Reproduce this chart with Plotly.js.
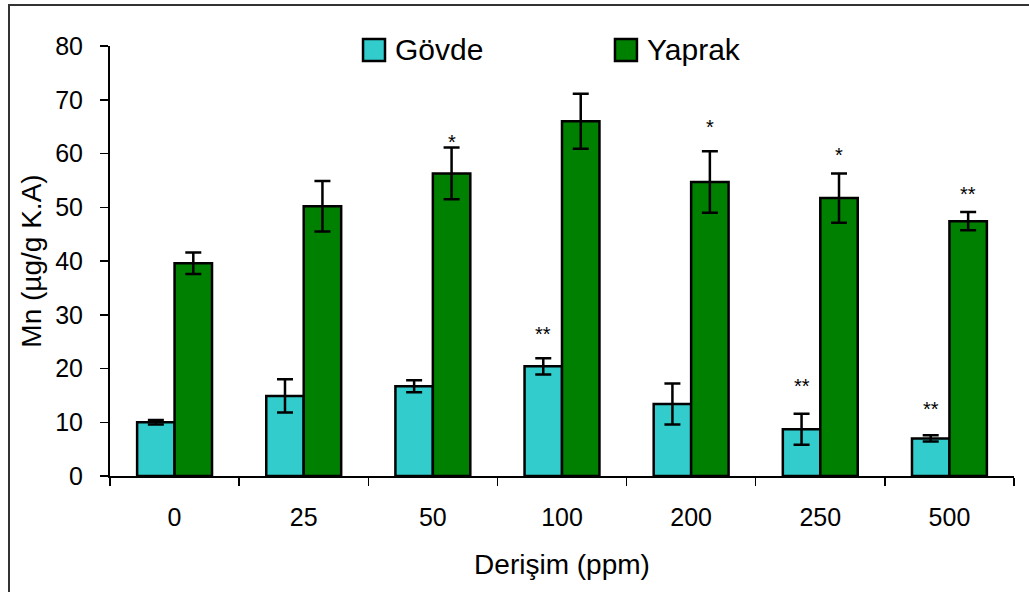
<!DOCTYPE html>
<html>
<head>
<meta charset="utf-8">
<script src="https://cdn.plot.ly/plotly-3.0.1.min.js"></script>
<style>
html,body{margin:0;padding:0;background:#fff;overflow:hidden;}
#chart{width:1029px;height:592px;}
#frame{position:absolute;left:8px;top:4px;width:1200px;height:800px;border-top:2px solid #333;border-left:2px solid #333;pointer-events:none;}
</style>
</head>
<body>
<div id="chart"></div>
<div id="frame"></div>
<script>
// ---- data ----
const categories = ['0', '25', '50', '100', '200', '250', '500'];
const seriesNames = ['Gövde', 'Yaprak'];
const govde = [10.0, 14.9, 16.7, 20.4, 13.4, 8.7, 7.0];
const govdeErr = [0.4, 3.1, 1.1, 1.5, 3.8, 2.9, 0.6];
const yaprak = [39.6, 50.2, 56.3, 66.0, 54.7, 51.7, 47.4];
const yaprakErr = [2.0, 4.7, 4.8, 5.1, 5.7, 4.6, 1.7];
// significance marks (label text and label height in axis units)
const govdeSig = ['', '', '', '**', '', '**', '**'];
const govdeSigY = [0, 0, 0, 27.2, 0, 17.4, 13.2];
const yaprakSig = ['', '', '*', '', '*', '*', '**'];
const yaprakSigY = [0, 0, 62.9, 0, 65.7, 60.5, 53.2];
const yTicks = [0, 10, 20, 30, 40, 50, 60, 70, 80];
const xTitle = 'Derişim (ppm)';
const yTitle = 'Mn (µg/g K.A)';

const colors = ['#33CCCC', '#008000'];
const FONT = '"Liberation Sans", Arial, sans-serif';
const bargap = 0.42;
const off = (1 - bargap) / 4;

const errStyle = {type: 'data', visible: true, color: '#000', thickness: 2.5, width: 8};
const traces = [
  {type: 'bar', name: seriesNames[0], x: categories, y: govde,
   marker: {color: colors[0], line: {color: '#000', width: 2.5}},
   error_y: Object.assign({array: govdeErr}, errStyle), showlegend: false},
  {type: 'bar', name: seriesNames[1], x: categories, y: yaprak,
   marker: {color: colors[1], line: {color: '#000', width: 2.5}},
   error_y: Object.assign({array: yaprakErr}, errStyle), showlegend: false}
];

const annotations = [];
categories.forEach((c, i) => {
  if (govdeSig[i]) annotations.push({x: i - off, y: govdeSigY[i], xref: 'x', yref: 'y', text: govdeSig[i],
    showarrow: false, yanchor: 'middle', yshift: -4, font: {family: FONT, size: 20, color: '#000'}});
  if (yaprakSig[i]) annotations.push({x: i + off, y: yaprakSigY[i], xref: 'x', yref: 'y', text: yaprakSig[i],
    showarrow: false, yanchor: 'middle', yshift: -4, font: {family: FONT, size: 20, color: '#000'}});
});

// custom legend (large square keys)
const shapes = [];
const legX = [0.2799, 0.5586];
seriesNames.forEach((n, k) => {
  shapes.push({type: 'rect', xref: 'paper', yref: 'paper', x0: legX[k], x1: legX[k] + 0.0243,
    y0: 0.9651, y1: 1.0163, fillcolor: colors[k], line: {color: '#000', width: 2.5}});
  annotations.push({xref: 'paper', yref: 'paper', x: legX[k] + 0.0332, y: 0.9907, xanchor: 'left', yanchor: 'middle',
    text: n, showarrow: false, font: {family: FONT, size: 30, color: '#000'}});
});

const layout = {
  width: 1029, height: 592,
  margin: {l: 110, r: 15, t: 46, b: 116},
  paper_bgcolor: '#fff', plot_bgcolor: '#fff',
  barmode: 'group', bargap: bargap, bargroupgap: 0,
  font: {family: FONT, color: '#000'},
  xaxis: {type: 'category', showline: true, linecolor: '#000', linewidth: 2,
    ticks: 'outside', tickson: 'boundaries', ticklen: 8, tickwidth: 1.5, tickcolor: '#000',
    showgrid: false, zeroline: false, ticklabelstandoff: 18,
    tickfont: {family: FONT, size: 25, color: '#000'},
    title: {text: xTitle, font: {family: FONT, size: 28, color: '#000'}, standoff: 24}},
  yaxis: {range: [0, 80], tickvals: yTicks, showline: true, linecolor: '#000', linewidth: 2,
    ticks: 'outside', ticklen: 8, tickwidth: 1.5, tickcolor: '#000',
    showgrid: false, zeroline: false, ticklabelstandoff: 12,
    tickfont: {family: FONT, size: 25, color: '#000'},
    title: {text: yTitle, font: {family: FONT, size: 28, color: '#000'}, standoff: 5}},
  shapes: shapes,
  annotations: annotations
};

Plotly.newPlot('chart', traces, layout, {displayModeBar: false, staticPlot: true});
</script>
</body>
</html>
